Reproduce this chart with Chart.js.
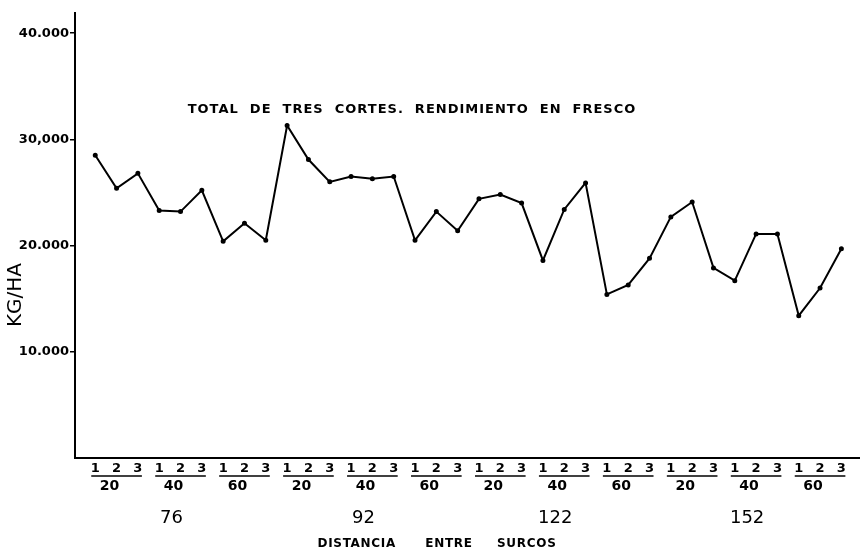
<!DOCTYPE html>
<html>
<head>
<meta charset="utf-8">
<script src="https://cdn.jsdelivr.net/npm/chart.js@4/dist/chart.umd.min.js"></script>
<style>
  html, body { margin: 0; padding: 0; background: #fff; }
  #wrap { width: 863px; height: 554px; }
</style>
</head>
<body>
<div id="wrap"><canvas id="grafica"></canvas></div>
<script>
// rendimiento total de tres cortes (kg/ha), en el orden de la grafica
const rendimiento = [
  28500, 25400, 26800,  23300, 23200, 25200,  20400, 22100, 20500,
  31300, 28100, 26000,  26500, 26300, 26500,  20500, 23200, 21400,
  24400, 24800, 24000,  18600, 23400, 25900,  15400, 16300, 18800,
  22700, 24100, 17900,  16700, 21100, 21100,  13400, 16000, 19700
];
const cortes = ['1', '2', '3'];
const dosis = ['20', '40', '60', '20', '40', '60', '20', '40', '60', '20', '40', '60'];
const distancias = ['76', '92', '122', '152'];
const marcasY = [10000, 20000, 30000, 40000];
const etiquetasY = ['10.000', '20.000', '30,000', '40.000'];

const puntos = rendimiento.map((v, i) => ({ x: i, y: v }));

const rotulos = {
  id: 'rotulos',
  afterDraw(chart) {
    const ctx = chart.ctx;
    const sx = chart.scales.x;
    const base = chart.chartArea.bottom;
    ctx.save();
    ctx.fillStyle = '#000';
    ctx.strokeStyle = '#000';
    ctx.textAlign = 'center';
    ctx.textBaseline = 'middle';

    // 1 2 3 debajo de cada punto
    ctx.font = 'bold 13px "DejaVu Sans"';
    for (let i = 0; i < rendimiento.length; i++) {
      ctx.fillText(cortes[i % 3], sx.getPixelForValue(i), base + 11);
    }
    // raya y dosis de cada grupo
    ctx.lineWidth = 1.5;
    ctx.font = 'bold 14px "DejaVu Sans"';
    for (let g = 0; g < dosis.length; g++) {
      const a = sx.getPixelForValue(g * 3) - 4;
      const b = sx.getPixelForValue(g * 3 + 2) + 4;
      ctx.beginPath();
      ctx.moveTo(a, base + 18);
      ctx.lineTo(b, base + 18);
      ctx.stroke();
      ctx.fillText(dosis[g], sx.getPixelForValue(g * 3 + 1) - 7, base + 28);
    }
    // distancias entre surcos
    ctx.font = '18px "DejaVu Sans"';
    for (let d = 0; d < distancias.length; d++) {
      ctx.fillText(distancias[d], sx.getPixelForValue(d * 9 + 4) - 9, base + 60);
    }
    ctx.font = 'bold 12px "DejaVu Sans"';
    ctx.letterSpacing = '0.7px';
    ctx.fillText('DISTANCIA      ENTRE     SURCOS', 437, base + 86);

    // titulo dentro del area
    ctx.font = 'bold 13px "DejaVu Sans"';
    ctx.letterSpacing = '1px';
    ctx.fillText('TOTAL  DE  TRES  CORTES.  RENDIMIENTO  EN  FRESCO', 412, 110);

    // titulo del eje y
    ctx.letterSpacing = '0px';
    ctx.translate(16, 295);
    ctx.rotate(-Math.PI / 2);
    ctx.font = '20px "DejaVu Sans"';
    ctx.fillText('KG/HA', 0, 0);
    ctx.restore();
  }
};

new Chart(document.getElementById('grafica'), {
  type: 'line',
  data: {
    datasets: [{
      label: 'Total de tres cortes',
      data: puntos,
      borderColor: '#000',
      backgroundColor: '#000',
      borderWidth: 2,
      pointRadius: 1.5,
      pointHoverRadius: 1.5,
      tension: 0,
      fill: false
    }]
  },
  options: {
    responsive: true,
    maintainAspectRatio: false,
    animation: false,
    layout: { padding: { top: 13, right: 0, bottom: 0, left: 0 } },
    plugins: {
      legend: { display: false },
      tooltip: { enabled: false }
    },
    scales: {
      x: {
        type: 'linear',
        min: -0.95,
        max: 35.85,
        grid: { display: false },
        border: { color: '#000', width: 2 },
        ticks: { display: false },
        afterFit(s) { s.height = 96; }
      },
      y: {
        min: 0,
        max: 41900,
        afterBuildTicks(s) { s.ticks = marcasY.map(v => ({ value: v })); },
        ticks: {
          color: '#000',
          padding: 1,
          font: { family: '"DejaVu Sans"', size: 13, weight: 'bold' },
          callback: (v) => etiquetasY[marcasY.indexOf(v)]
        },
        grid: { drawOnChartArea: false, color: '#000', tickLength: 5, lineWidth: 1.5 },
        border: { color: '#000', width: 2 },
        afterFit(s) { s.width = 75; }
      }
    }
  },
  plugins: [rotulos]
});
</script>
</body>
</html>
